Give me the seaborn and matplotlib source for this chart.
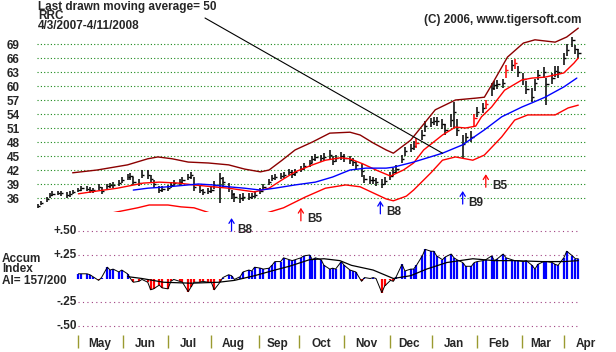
import numpy as np
import pandas as pd
import matplotlib
matplotlib.use('Agg')
import matplotlib.pyplot as plt
import seaborn as sns

# price bars, one every second trading day from 4/3/2007
close = [34.3, 34.9, 35.8, 36.6, 36.9, 37.1, 37.0, 36.6, 36.9, 37.3,
         37.7, 38.1, 38.0, 37.7, 37.7, 38.4, 37.5, 38.6, 38.8, 38.8,
         39.2, 39.9, 40.5, 40.7, 39.4, 39.2, 40.9, 41.0, 40.1, 39.0,
         37.7, 37.9, 38.1, 38.8, 39.2, 39.4, 39.9, 40.5, 40.9, 38.4,
         37.7, 37.3, 37.5, 37.7, 38.8, 40.3, 39.4, 38.1, 36.9, 36.2,
         36.0, 36.2, 36.2, 36.4, 36.6, 37.5, 38.4, 39.4, 40.3, 40.5,
         40.7, 40.9, 41.6, 41.1, 41.6, 42.2, 42.8, 43.5, 44.4, 44.8,
         44.6, 44.8, 45.2, 43.9, 44.6, 45.0, 44.6, 44.1, 43.7, 43.0,
         41.8, 40.1, 39.9, 39.9, 39.4, 39.0, 39.6, 40.7, 41.6, 42.2,
         44.4, 46.1, 46.7, 47.1, 47.8, 49.5, 51.4, 52.2, 52.5, 52.5,
         51.9, 50.6, 52.7, 54.4, 50.6, 47.6, 49.1, 49.1, 53.1, 54.4,
         55.3, 56.1, 59.6, 60.2, 60.4, 60.6, 63.4, 64.5, 64.9, 63.0,
         61.5, 59.4, 57.6, 60.6, 62.4, 63.0, 60.4, 61.7, 63.2, 63.0,
         66.0, 67.7, 69.9, 67.9, 67.1]
high = [34.7, 35.4, 36.3, 37.0, 37.4, 37.6, 37.5, 37.2, 37.4, 37.8,
        38.2, 38.6, 38.6, 38.3, 38.2, 38.9, 38.3, 39.1, 39.3, 39.4,
        39.8, 40.4, 41.1, 41.3, 40.4, 40.0, 42.0, 42.0, 40.9, 39.8,
        38.6, 38.5, 38.7, 39.4, 39.8, 40.0, 40.5, 41.2, 41.5, 40.6,
        38.5, 38.0, 38.2, 38.6, 39.6, 41.4, 40.5, 39.2, 37.8, 37.0,
        36.8, 37.0, 37.0, 37.1, 37.4, 38.2, 39.0, 40.0, 40.9, 41.2,
        41.4, 41.6, 42.3, 42.0, 42.2, 42.9, 43.5, 44.2, 45.1, 45.5,
        45.3, 45.6, 46.2, 45.0, 45.3, 45.9, 45.4, 44.9, 44.6, 44.0,
        43.2, 41.0, 40.7, 40.6, 40.3, 40.0, 40.4, 41.5, 42.4, 43.0,
        45.2, 47.0, 47.6, 48.2, 48.9, 50.5, 52.4, 53.2, 53.4, 53.3,
        52.9, 51.8, 54.0, 56.6, 53.0, 49.5, 50.0, 50.3, 54.0, 55.4,
        56.3, 57.0, 60.6, 61.1, 61.3, 61.6, 64.5, 65.6, 65.8, 64.2,
        62.8, 61.0, 59.5, 61.6, 63.5, 64.1, 61.8, 62.8, 64.3, 64.2,
        67.0, 68.9, 70.5, 68.8, 68.0]
low = [33.9, 34.4, 35.2, 36.1, 36.4, 36.6, 36.5, 36.0, 36.3, 36.8,
       37.2, 37.6, 37.4, 37.1, 37.1, 37.8, 36.9, 38.0, 38.2, 38.2,
       38.6, 39.3, 39.9, 39.9, 38.7, 38.5, 40.2, 40.1, 39.3, 38.2,
       37.0, 37.2, 37.4, 38.2, 38.6, 38.8, 39.2, 39.8, 40.1, 37.6,
       37.0, 36.6, 36.8, 37.0, 38.0, 35.0, 38.4, 37.2, 35.8, 35.2,
       34.9, 35.3, 35.5, 35.7, 35.9, 36.8, 37.7, 38.7, 39.6, 39.8,
       40.0, 40.2, 40.9, 40.3, 40.8, 41.5, 42.0, 42.7, 43.6, 44.0,
       43.8, 44.0, 44.4, 43.0, 43.7, 44.1, 43.7, 43.2, 42.8, 42.1,
       40.6, 39.2, 39.0, 39.1, 38.6, 38.2, 38.8, 39.8, 40.8, 41.4,
       43.4, 45.1, 45.8, 46.2, 46.8, 48.4, 50.2, 51.2, 51.6, 51.5,
       50.8, 49.5, 51.2, 51.0, 49.2, 44.5, 48.0, 48.0, 51.4, 53.3,
       54.2, 55.0, 57.9, 59.1, 59.4, 59.6, 61.8, 63.2, 63.7, 61.9,
       60.3, 58.2, 56.5, 58.9, 61.2, 61.7, 55.9, 60.4, 62.0, 61.8,
       64.6, 66.5, 68.4, 66.8, 66.0]
red_bars = [94, 108, 111, 116, 118]

# 21-day band lines and 50-day average
upper_dates = ['2007-04-27', '2007-05-14', '2007-06-04', '2007-06-18', '2007-06-25',
               '2007-07-05', '2007-07-16', '2007-07-30', '2007-08-13', '2007-08-24',
               '2007-09-04', '2007-09-10', '2007-09-19', '2007-09-28', '2007-10-10',
               '2007-10-22', '2007-11-05', '2007-11-12', '2007-11-21', '2007-11-30',
               '2007-12-05', '2007-12-17', '2008-01-03', '2008-01-17', '2008-01-31',
               '2008-02-06', '2008-02-11', '2008-02-22', '2008-03-04', '2008-03-12',
               '2008-03-26', '2008-04-03', '2008-04-11']
upper_vals = [41.4, 42.0, 43.1, 44.4, 44.8, 44.4, 43.7, 43.5, 43.1, 42.2,
              41.6, 42.0, 44.1, 46.3, 48.0, 49.9, 50.1, 49.5, 47.8, 46.3,
              45.6, 48.4, 54.9, 57.0, 57.4, 57.6, 60.2, 66.2, 69.2, 69.9,
              69.4, 70.5, 72.4]
mid_dates = ['2007-05-01', '2007-05-14', '2007-05-28', '2007-06-15', '2007-06-26',
             '2007-07-09', '2007-07-20', '2007-08-02', '2007-08-13', '2007-08-31',
             '2007-09-10', '2007-09-19', '2007-09-28', '2007-10-10', '2007-10-19',
             '2007-10-29', '2007-11-05', '2007-11-14', '2007-11-23', '2007-12-03',
             '2007-12-12', '2007-12-19', '2007-12-26', '2008-01-08', '2008-01-17',
             '2008-01-24', '2008-01-31', '2008-02-04', '2008-02-11', '2008-02-20',
             '2008-03-03', '2008-03-10', '2008-03-19', '2008-04-01', '2008-04-08',
             '2008-04-11']
mid_vals = [36.9, 37.5, 38.1, 39.2, 39.4, 39.2, 38.8, 38.4, 38.1, 37.3,
            38.1, 39.9, 41.6, 43.1, 44.1, 44.6, 44.4, 43.3, 42.0, 40.7,
            42.0, 43.5, 46.3, 49.5, 51.2, 51.0, 51.4, 53.4, 55.5, 59.1,
            61.3, 61.7, 61.9, 62.8, 64.9, 66.0]
lower_dates = ['2007-05-01', '2007-05-21', '2007-06-11', '2007-06-19', '2007-07-02',
               '2007-07-11', '2007-07-20', '2007-08-01', '2007-08-17', '2007-09-04',
               '2007-09-20', '2007-10-05', '2007-10-19', '2007-11-02', '2007-11-12',
               '2007-11-21', '2007-11-30', '2007-12-05', '2007-12-14', '2007-12-19',
               '2007-12-31', '2008-01-08', '2008-01-17', '2008-01-29', '2008-02-06',
               '2008-02-18', '2008-02-27', '2008-03-07', '2008-03-17', '2008-03-26',
               '2008-04-04', '2008-04-11']
lower_vals = [32.2, 32.6, 33.9, 34.5, 34.5, 34.1, 33.9, 32.7, 32.4, 32.4,
              33.9, 36.2, 38.1, 38.8, 38.4, 37.1, 35.8, 35.4, 36.4, 37.7,
              41.4, 44.1, 44.8, 44.1, 45.2, 49.1, 52.7, 53.8, 53.8, 53.8,
              55.3, 55.9]
ma50_dates = ['2007-06-08', '2007-06-18', '2007-07-02', '2007-07-23', '2007-08-02',
              '2007-08-13', '2007-08-24', '2007-09-04', '2007-09-14', '2007-09-28',
              '2007-10-12', '2007-10-24', '2007-11-05', '2007-11-16', '2007-11-30',
              '2007-12-05', '2007-12-19', '2008-01-08', '2008-01-22', '2008-02-06',
              '2008-02-18', '2008-03-03', '2008-03-10', '2008-03-19', '2008-04-01',
              '2008-04-10']
ma50_vals = [37.7, 38.1, 38.4, 39.0, 38.8, 38.4, 38.1, 37.7, 38.1, 38.8,
             39.4, 40.5, 42.0, 42.4, 42.4, 42.6, 43.7, 45.6, 47.4, 50.6,
             53.4, 55.5, 56.4, 57.6, 59.8, 61.7]

# buy signals
sig_dates = ['2007-08-15', '2007-10-02', '2007-11-26', '2008-01-22', '2008-02-07']
sig_labels = ['B8', 'B5', 'B8', 'B9', 'B5']
sig_colors = ['#0000ff', '#ff0000', '#0000ff', '#0000ff', '#ff0000']
sig_tip = [31.7, 33.9, 35.4, 37.5, 41.1]

# accumulation index, starts at bar 10
ai = [0.05, 0.05, 0.05, 0.04, 0.02, -0.02, 0.01, 0.12, 0.09, 0.10,
      0.07, 0.09, 0.05, 0.00, -0.04, -0.03, -0.01, -0.04, -0.12, -0.11,
      -0.07, -0.10, -0.11, -0.03, -0.01, -0.03, -0.04, -0.14, -0.09, -0.04,
      -0.04, -0.03, -0.04, -0.04, -0.12, -0.04, 0.01, 0.04, 0.03, -0.01,
      0.02, 0.07, 0.09, 0.08, 0.12, 0.11, 0.10, 0.11, 0.14, 0.18,
      0.18, 0.22, 0.20, 0.19, 0.20, 0.22, 0.24, 0.25, 0.20, 0.22,
      0.20, 0.14, 0.10, 0.11, 0.10, 0.18, 0.14, 0.09, 0.08, 0.07,
      -0.03, 0.01, 0.00, 0.01, 0.00, -0.15, -0.08, -0.02, -0.03, 0.02,
      0.15, 0.08, 0.10, 0.10, 0.14, 0.24, 0.31, 0.29, 0.29, 0.24,
      0.20, 0.23, 0.26, 0.22, 0.20, 0.17, 0.13, 0.13, 0.17, 0.18,
      0.19, 0.20, 0.24, 0.19, 0.21, 0.26, 0.22, 0.20, 0.19, 0.19,
      0.18, 0.19, 0.14, 0.10, 0.15, 0.18, 0.18, 0.17, 0.15, 0.14,
      0.22, 0.29, 0.24, 0.21, 0.21]
ai_ma_dates = ['2007-06-04', '2007-06-14', '2007-06-29', '2007-07-18', '2007-08-06',
               '2007-08-17', '2007-08-31', '2007-09-14', '2007-09-24', '2007-10-08',
               '2007-10-18', '2007-10-29', '2007-11-06', '2007-11-21', '2007-12-05',
               '2007-12-17', '2007-12-28', '2008-01-11', '2008-01-29', '2008-02-13',
               '2008-02-27', '2008-03-17', '2008-04-01', '2008-04-11']
ai_ma_vals = [0.02, 0.00, -0.04, -0.05, -0.04, -0.02, 0.03, 0.09, 0.13, 0.20,
              0.21, 0.19, 0.14, 0.09, 0.00, 0.03, 0.10, 0.17, 0.21, 0.19,
              0.19, 0.18, 0.18, 0.19]
ai_levels = [0.50, 0.25, -0.25, -0.50]
ai_level_labels = ['+.50', '+.25', '-.25', '-.50']
price_ticks = [36, 39, 42, 45, 48, 51, 54, 57, 60, 63, 66, 69]


def main():
    sns.set_style('white')
    plt.rcParams['font.family'] = ['Liberation Sans', 'DejaVu Sans']
    plt.rcParams['font.weight'] = 'bold'
    plt.rcParams['font.size'] = 8.5

    W, H = 616, 352
    fig = plt.figure(figsize=(W / 100, H / 100), dpi=100)
    ax = fig.add_axes([36.5 / W, 1 - 212 / H, 549 / W, 212 / H])
    ax2 = fig.add_axes([36.5 / W, 1 - 335 / H, 549 / W, 113 / H], sharex=ax)

    all_days = pd.bdate_range('2007-04-03', '2008-04-11')
    dates = all_days[::2][:len(close)]
    c = np.array(close)
    hi = np.array(high)
    lo = np.array(low)
    is_red = np.zeros(len(c), dtype=bool)
    is_red[red_bars] = True

    # price panel
    for lvl in price_ticks:
        ax.axhline(lvl, color='#1a8a1a', lw=0.8, ls=(0, (1, 2)), zorder=0)
    for mask, col in [(~is_red, 'black'), (is_red, '#ff0000')]:
        ax.vlines(dates[mask], lo[mask], hi[mask], color=col, lw=1.1)
        ax.hlines(c[mask], dates[mask], dates[mask] + pd.Timedelta(days=1.6),
                  color=col, lw=1.0)

    sns.lineplot(x=pd.to_datetime(upper_dates), y=upper_vals, ax=ax,
                 color='#8b0000', lw=1.0)
    sns.lineplot(x=pd.to_datetime(mid_dates), y=mid_vals, ax=ax,
                 color='#ff0000', lw=1.0)
    sns.lineplot(x=pd.to_datetime(lower_dates), y=lower_vals, ax=ax,
                 color='#ff0000', lw=1.0)
    sns.lineplot(x=pd.to_datetime(ma50_dates), y=ma50_vals, ax=ax,
                 color='#0000ff', lw=1.0)

    for d, lbl, col, tip in zip(sig_dates, sig_labels, sig_colors, sig_tip):
        d = pd.Timestamp(d)
        ax.annotate('', xy=(d, tip), xytext=(0, -9.4), textcoords='offset points',
                    arrowprops=dict(arrowstyle='->,head_length=0.35,head_width=0.22',
                                    color=col, lw=0.9, shrinkA=0, shrinkB=0),
                    annotation_clip=False)
        ax.annotate(lbl, xy=(d, tip), xytext=(4.3, -8.3), textcoords='offset points',
                    ha='left', va='center', fontsize=8.5, fontweight='bold',
                    annotation_clip=False)

    # pointer from the heading to the 50-day line
    ax.annotate('', xy=(pd.Timestamp('2008-01-08'), 45.6),
                xytext=(205 / W, 1 - 18 / H), textcoords='figure fraction',
                arrowprops=dict(arrowstyle='-', color='black', lw=0.8,
                                shrinkA=0, shrinkB=0))

    ax.set_ylim(33.0, 78.43)
    ax.set_xlim(pd.Timestamp('2007-04-02'), pd.Timestamp('2008-04-12'))
    ax.set_yticks(price_ticks)
    ax.set_yticklabels([str(t) for t in price_ticks])
    ax.tick_params(axis='y', length=0, pad=12, labelsize=8.5)
    ax.tick_params(axis='x', which='both', bottom=False, labelbottom=False)
    ax.set_xlabel('')
    ax.set_ylabel('')
    for s in ax.spines.values():
        s.set_visible(False)
    ax.patch.set_alpha(0)

    fig.text(38 / W, 1 - 1 / H, 'Last drawn moving average= 50\nRRC\n4/3/2007-4/11/2008',
             ha='left', va='top', linespacing=0.72)
    fig.text(581 / W, 1 - 23 / H, '(C) 2006, www.tigersoft.com', ha='right', va='baseline')

    # accumulation index panel
    ai_dates = dates[10:10 + len(ai)]
    a = np.array(ai)
    pos = a >= 0
    ax2.hlines(ai_levels, pd.Timestamp('2007-05-01'), pd.Timestamp('2008-04-10'),
               color='#a04080', lw=0.8, ls=(0, (1, 3)), zorder=0)
    for lvl, lbl in zip(ai_levels, ai_level_labels):
        ax2.text(pd.Timestamp('2007-04-30'), lvl, lbl, ha='right', va='center')
    ax2.vlines(ai_dates[pos], 0, a[pos], color='#0000ff', lw=1.6)
    ax2.vlines(ai_dates[~pos], 0, a[~pos], color='#ff0000', lw=1.6)
    sns.lineplot(x=ai_dates, y=ai, ax=ax2, color='black', lw=0.7)
    sns.lineplot(x=pd.to_datetime(ai_ma_dates), y=ai_ma_vals, ax=ax2,
                 color='black', lw=0.9)
    ax2.set_ylim(-0.601, 0.601)
    ax2.set_yticks([])
    ax2.set_xlabel('')
    ax2.set_ylabel('')
    for s in ax2.spines.values():
        s.set_visible(False)
    ax2.patch.set_alpha(0)

    fig.text(2 / W, 1 - 274.5 / H, 'Accum\nIndex', ha='left', va='bottom',
             linespacing=0.72)
    fig.text(2 / W, 1 - 274.5 / H, 'AI= 157/200', ha='left', va='top')

    # month separators and labels
    day_s = all_days.to_series()
    firsts = day_s.groupby(all_days.to_period('M')).first()
    month_starts = list(firsts.values[1:])
    month_mids = [pd.Timestamp(p.year, p.month, 16) for p in firsts.index[1:]]
    ax2.set_xticks(month_starts)
    ax2.set_xticklabels([])
    ax2.set_xticks(month_mids, minor=True)
    ax2.set_xticklabels([m.strftime('%b') for m in month_mids], minor=True)
    ax2.tick_params(axis='x', which='major', length=9, width=1, color='#9a9a30',
                    direction='out', bottom=True)
    ax2.tick_params(axis='x', which='minor', length=0, pad=2, labelsize=8.5)
    for t in ax2.get_xticklabels(minor=True):
        t.set_clip_on(False)

    fig.savefig('out.png', dpi=100, facecolor='white')


if __name__ == '__main__':
    main()
